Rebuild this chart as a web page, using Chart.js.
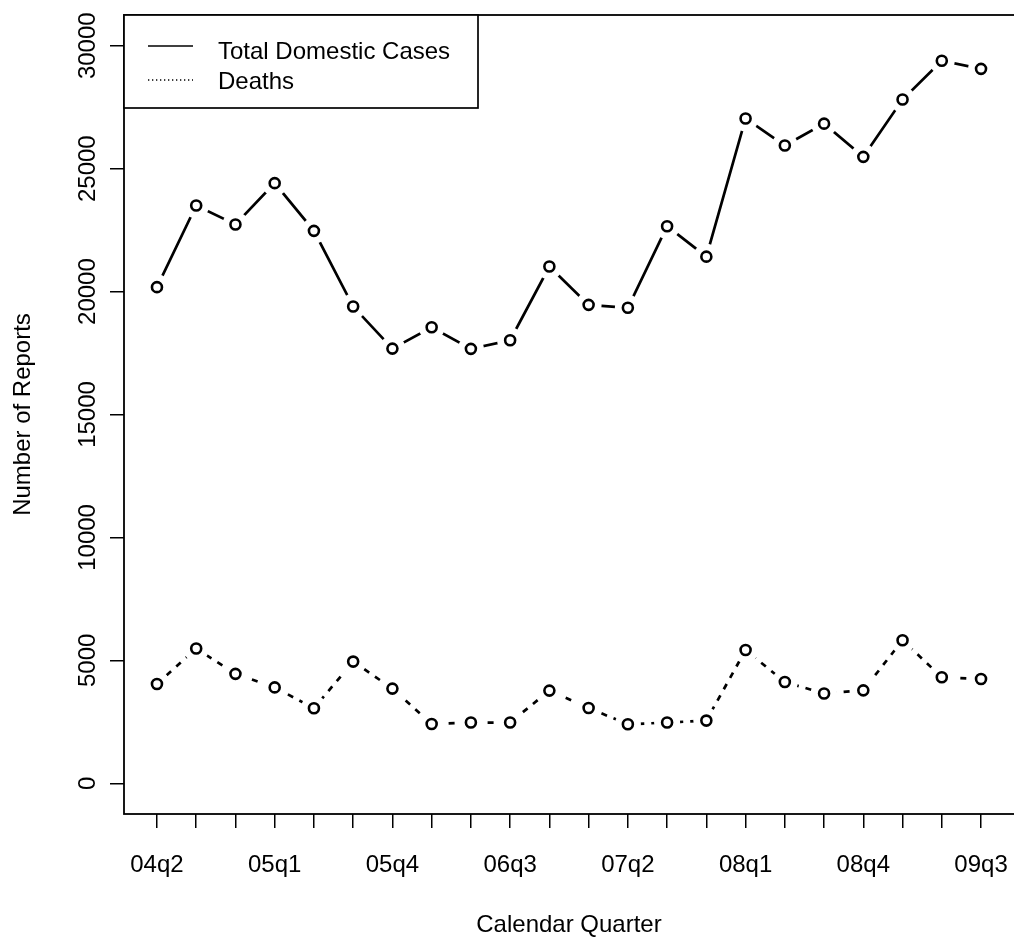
<!DOCTYPE html>
<html>
<head>
<meta charset="utf-8">
<script src="https://cdn.jsdelivr.net/npm/chart.js@4"></script>
<style>
  html, body { margin: 0; padding: 0; background: #fff; }
  #wrap { width: 1014px; height: 937px; }
</style>
</head>
<body>
<div id="wrap"><canvas id="reports" width="1014" height="937"></canvas></div>
<script>
// quarters on the x axis, labelled every third one
const quarters = ['04q2','04q3','04q4','05q1','05q2','05q3','05q4','06q1','06q2','06q3','06q4',
  '07q1','07q2','07q3','07q4','08q1','08q2','08q3','08q4','09q1','09q2','09q3'];
const xTickLabels = ['04q2','05q1','05q4','06q3','07q2','08q1','08q4','09q3'];
const yTicks = [0, 5000, 10000, 15000, 20000, 25000, 30000];

const totalCases = [20180, 23500, 22730, 24410, 22470, 19390, 17680, 18550, 17670, 18020, 21020,
  19460, 19340, 22660, 21420, 27040, 25940, 26830, 25480, 27810, 29390, 29060];
const deaths = [4040, 5480, 4450, 3900, 3050, 4950, 3850, 2410, 2470, 2470, 3770,
  3060, 2400, 2470, 2550, 5420, 4120, 3650, 3780, 5820, 4310, 4240];

const FONT = "'Liberation Sans', Arial, Helvetica, sans-serif";
const toPts = arr => arr.map((v, i) => ({ x: i, y: v }));

// open circles on top
const circles = data => ({
  data: toPts(data),
  showLine: false,
  pointRadius: 5,
  pointBorderWidth: 2.6,
  pointBorderColor: '#000',
  pointBackgroundColor: 'rgba(0,0,0,0)'
});
// line with white halo round each point (R type = "b")
const halo = (data, dash) => ({
  data: toPts(data),
  showLine: true,
  borderColor: '#000',
  borderWidth: 2.7,
  borderDash: dash,
  borderCapStyle: 'butt',
  pointRadius: 13,
  pointBorderWidth: 0,
  pointBackgroundColor: '#fff',
  pointBorderColor: '#fff'
});

// box, rotated y labels and legend
const rStyle = {
  id: 'rStyle',
  afterDraw(chart) {
    const { ctx, chartArea: a } = chart;
    const y = chart.scales.y;
    ctx.save();
    ctx.strokeStyle = '#000';
    ctx.lineWidth = 1.8;
    ctx.strokeRect(a.left, a.top, a.right - a.left + 3, a.bottom - a.top);

    ctx.fillStyle = '#000';
    ctx.font = '24px ' + FONT;
    ctx.textAlign = 'center';
    ctx.textBaseline = 'alphabetic';
    y.ticks.forEach(t => {
      ctx.save();
      ctx.translate(95, y.getPixelForValue(t.value));
      ctx.rotate(-Math.PI / 2);
      ctx.fillText(String(t.value), 0, 0);
      ctx.restore();
    });

    // legend
    ctx.fillStyle = '#fff';
    ctx.fillRect(a.left, a.top, 354, 93);
    ctx.lineWidth = 1.7;
    ctx.strokeRect(a.left, a.top, 354, 93);
    ctx.lineWidth = 1.3;
    ctx.beginPath();
    ctx.moveTo(148, 46); ctx.lineTo(193, 46);
    ctx.stroke();
    ctx.setLineDash([1.3, 2.7]);
    ctx.beginPath();
    ctx.moveTo(148, 80); ctx.lineTo(193, 80);
    ctx.stroke();
    ctx.setLineDash([]);
    ctx.fillStyle = '#000';
    ctx.textAlign = 'left';
    ctx.textBaseline = 'middle';
    ctx.fillText('Total Domestic Cases', 218, 52);
    ctx.fillText('Deaths', 218, 82.5);
    ctx.restore();
  }
};

new Chart(document.getElementById('reports'), {
  type: 'scatter',
  data: {
    datasets: [
      circles(totalCases),
      circles(deaths),
      halo(totalCases, []),
      halo(deaths, [6, 7])
    ]
  },
  options: {
    responsive: false,
    animation: false,
    layout: { autoPadding: false, padding: { top: 15, left: 0, right: 0, bottom: 0 } },
    plugins: { legend: { display: false }, tooltip: { enabled: false } },
    scales: {
      x: {
        type: 'linear',
        min: -0.84,
        max: 21.84,
        afterBuildTicks: s => { s.ticks = quarters.map((q, i) => ({ value: i })); },
        afterFit: s => { s.height = 123; s.paddingLeft = 0; s.paddingRight = 0; },
        border: { display: false },
        grid: { drawOnChartArea: false, drawTicks: true, tickLength: 14, color: '#000', lineWidth: 1.5 },
        ticks: {
          autoSkip: false,
          maxRotation: 0,
          minRotation: 0,
          padding: 23,
          color: '#000',
          font: { family: FONT, size: 24, lineHeight: 1.2 },
          callback: v => xTickLabels.includes(quarters[v]) ? quarters[v] : ''
        },
        title: {
          display: true,
          text: 'Calendar Quarter',
          color: '#000',
          font: { family: FONT, size: 24, lineHeight: 1 },
          padding: { top: 0, bottom: 0 }
        }
      },
      y: {
        min: -1250,
        max: 31250,
        afterBuildTicks: s => { s.ticks = yTicks.map(v => ({ value: v })); },
        afterFit: s => { s.width = 124; s.paddingTop = 0; s.paddingBottom = 0; },
        border: { display: false },
        grid: { drawOnChartArea: false, drawTicks: true, tickLength: 14, color: '#000', lineWidth: 1.5 },
        ticks: { display: false },
        title: {
          display: true,
          text: 'Number of Reports',
          color: '#000',
          font: { family: FONT, size: 24, lineHeight: 1 },
          padding: { top: 11.5, bottom: 0 }
        }
      }
    }
  },
  plugins: [rStyle]
});
</script>
</body>
</html>
